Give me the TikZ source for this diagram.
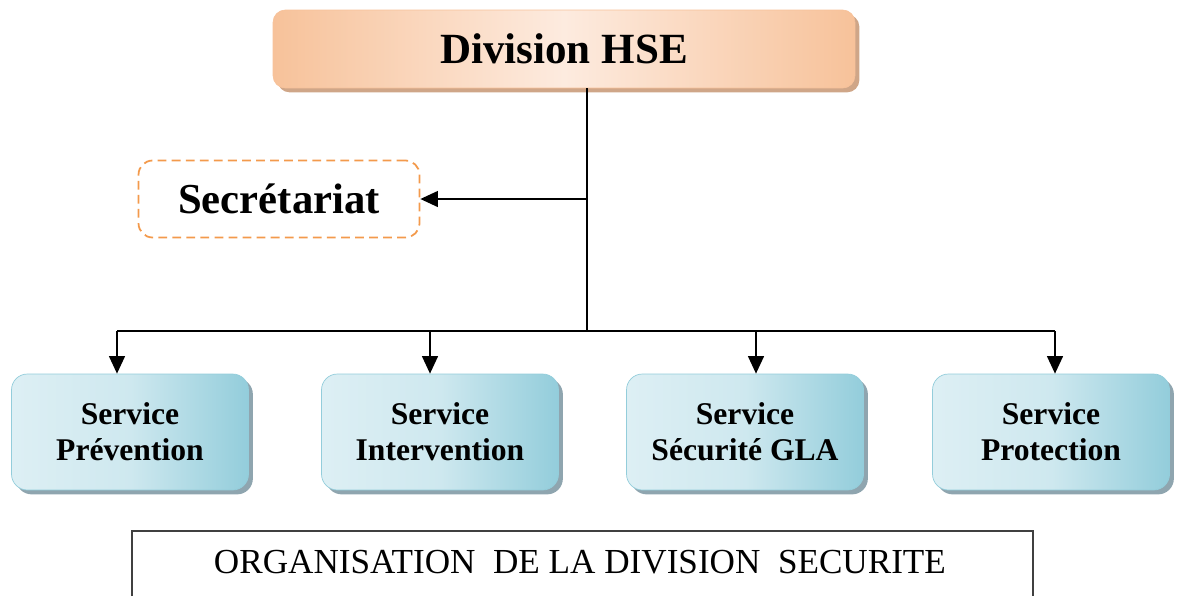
\documentclass[tikz,border=0pt]{standalone}
\usepackage{fontspec}
\setmainfont{Liberation Serif}
\usetikzlibrary{arrows.meta,shadows,positioning}
\definecolor{hseorange}{HTML}{F7C29A}
\definecolor{hselight}{HTML}{FDEBDF}
\definecolor{hseshadow}{HTML}{CFA688}
\definecolor{servdark}{HTML}{93CDDB}
\definecolor{servlight}{HTML}{DDEFF4}
\definecolor{servshadow}{HTML}{8FA5AF}
\definecolor{secorange}{HTML}{F39A4C}
\tikzset{
  headbox/.style={rounded corners=7pt, minimum width=11.64cm, minimum height=1.56cm,
    draw=hseorange, left color=hseorange, right color=hseorange, middle color=hselight,
    drop shadow={fill=hseshadow, opacity=1, shadow xshift=2.5pt, shadow yshift=-2.5pt},
    font=\fontsize{24.5}{30}\selectfont\bfseries},
  secbox/.style={rounded corners=8pt, minimum width=5.62cm, minimum height=1.54cm,
    draw=secorange, dashed, dash pattern=on 5pt off 3pt, line width=1pt,
    font=\fontsize{24.3}{30}\selectfont\bfseries},
  servbox/.style={rounded corners=9pt, minimum width=4.74cm, minimum height=2.32cm,
    draw=servdark, left color=servlight, right color=servdark, middle color=servlight!80!servdark,
    drop shadow={fill=servshadow, opacity=1, shadow xshift=2.5pt, shadow yshift=-2.5pt},
    align=center, font=\fontsize{18}{20.5}\selectfont\bfseries},
  link/.style={line width=1.1pt},
  frame/.style={line width=1pt, draw=black!75},
}
\begin{document}
\begin{tikzpicture}[x=0.02cm, y=-0.02cm, >={Stealth[length=10pt, width=9pt, inset=0pt]}]
  \useasboundingbox (0,0) rectangle (1177,596);
  % head and secretariat
  \node[headbox] (hse) at (564,49) {Division HSE};
  \node[secbox] (sec) at (279,199) {Secrétariat};
  % services
  \node[servbox] (prev) at (130,432) {Service\\Prévention};
  \node[servbox] (inter) at (440,432) {Service\\Intervention};
  \node[servbox] (gla) at (745,432) {Service\\Sécurité GLA};
  \node[servbox] (prot) at (1051,432) {Service\\Protection};
  % connectors
  \coordinate (junc) at (587,199);
  \coordinate (bus) at (587,331);
  \coordinate (b1) at (117,331);
  \coordinate (b2) at (430,331);
  \coordinate (b3) at (756,331);
  \coordinate (b4) at (1055,331);
  \draw[link] (hse.south -| bus) -- (bus);
  \draw[link, ->] (junc) -- (sec.east);
  \draw[link] (b1) -- (b4);
  \draw[link, ->] (b1) -- (b1 |- prev.north);
  \draw[link, ->] (b2) -- (b2 |- inter.north);
  \draw[link, ->] (b3) -- (b3 |- gla.north);
  \draw[link, ->] (b4) -- (b4 |- prot.north);
  % caption
  \draw[frame] (132,596) |- (1033,531) -- (1033,596);
  \node[font=\fontsize{20}{24}\selectfont] (title) at (580,562) {ORGANISATION~~DE LA DIVISION~~SECURITE};
\end{tikzpicture}
\end{document}
